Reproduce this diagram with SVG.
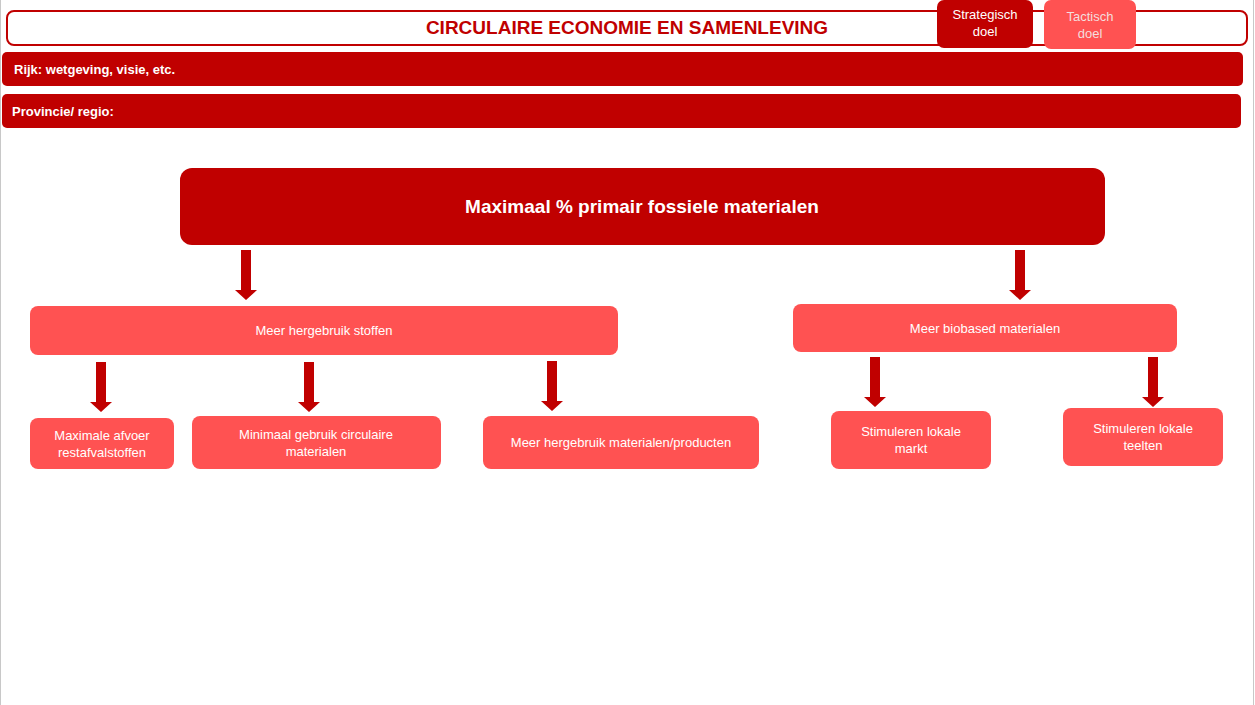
<svg xmlns="http://www.w3.org/2000/svg" width="1255" height="705" viewBox="0 0 1255 705">
<style>
.dark{fill:#c00000}
.light{fill:#ff5252}
.t{font-family:"Liberation Sans",Arial,sans-serif;fill:#fff;text-anchor:middle}
.s{font-size:13px}
.b{font-weight:bold}
.arr{fill:#c00000}
</style>
<rect width="1255" height="705" fill="#fff"/>
<line x1="0.5" y1="0" x2="0.5" y2="705" stroke="#c8c8c8"/>
<line x1="1253.5" y1="0" x2="1253.5" y2="705" stroke="#c8c8c8"/>
<g id="title"><rect x="7" y="11" width="1240" height="34" rx="7" fill="#fff" stroke="#c00000" stroke-width="2"/>
<text x="627" y="34" class="t b" style="font-size:19px;fill:#c00000">CIRCULAIRE ECONOMIE EN SAMENLEVING</text></g>
<g id="legend-strategisch"><rect x="937" y="0" width="96" height="48" rx="7" class="dark"/>
<text x="985" y="19" class="t s">Strategisch</text><text x="985" y="36" class="t s">doel</text></g>
<g id="legend-tactisch"><rect x="1044" y="0" width="92" height="49" rx="7" class="light"/>
<text x="1090" y="21" class="t s" style="fill:#f4dede">Tactisch</text><text x="1090" y="38" class="t s" style="fill:#f4dede">doel</text></g>
<g id="rijk"><rect x="2" y="52" width="1241" height="34" rx="5" class="dark"/>
<text x="14" y="74" class="t b s" style="text-anchor:start">Rijk: wetgeving, visie, etc.</text></g>
<g id="provincie"><rect x="2" y="94" width="1239" height="34" rx="5" class="dark"/>
<text x="12" y="116" class="t b s" style="text-anchor:start">Provincie/ regio:</text></g>
<g id="main"><rect x="180" y="168" width="925" height="77" rx="12" class="dark"/>
<text x="642" y="213" class="t b" style="font-size:19px">Maximaal % primair fossiele materialen</text></g>
<g id="hergebruik"><rect x="30" y="306" width="588" height="49" rx="8" class="light"/>
<text x="324" y="335" class="t s">Meer hergebruik stoffen</text></g>
<g id="biobased"><rect x="793" y="304" width="384" height="48" rx="8" class="light"/>
<text x="985" y="333" class="t s">Meer biobased materialen</text></g>
<g id="afvoer"><rect x="30" y="418" width="144" height="51" rx="8" class="light"/>
<text x="102" y="440" class="t s">Maximale afvoer</text><text x="102" y="457" class="t s">restafvalstoffen</text></g>
<g id="minimaal"><rect x="192" y="416" width="249" height="53" rx="8" class="light"/>
<text x="316" y="439" class="t s">Minimaal gebruik circulaire</text><text x="316" y="456" class="t s">materialen</text></g>
<g id="producten"><rect x="483" y="416" width="276" height="53" rx="8" class="light"/>
<text x="621" y="447" class="t s">Meer hergebruik materialen/producten</text></g>
<g id="markt"><rect x="831" y="411" width="160" height="58" rx="8" class="light"/>
<text x="911" y="436" class="t s">Stimuleren lokale</text><text x="911" y="453" class="t s">markt</text></g>
<g id="teelten"><rect x="1063" y="408" width="160" height="58" rx="8" class="light"/>
<text x="1143" y="433" class="t s">Stimuleren lokale</text><text x="1143" y="450" class="t s">teelten</text></g>
<defs><path id="a" d="M-5,0 H5 V40 H11 L0,50 L-11,40 H-5 Z"/></defs>
<g id="connectors" class="arr">
<use href="#a" x="246" y="250"/>
<use href="#a" x="1020" y="250"/>
<use href="#a" x="101" y="362"/>
<use href="#a" x="309" y="362"/>
<use href="#a" x="552" y="361"/>
<use href="#a" x="875" y="357"/>
<use href="#a" x="1153" y="357"/>
</g>
</svg>
